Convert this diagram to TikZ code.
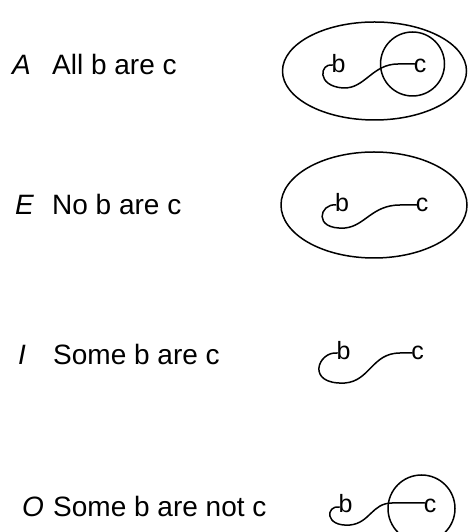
\documentclass[tikz,border=0pt]{standalone}
\usepackage{fontspec}
\setmainfont{Liberation Sans}
\begin{document}
\begin{tikzpicture}[x=1pt,y=1pt,
  lbl/.style={anchor=base west,inner sep=0pt,font=\fontsize{28}{30}\selectfont},
  let/.style={anchor=base,inner sep=0pt,font=\fontsize{25}{27}\selectfont},
  ln/.style={line width=1.5pt,line cap=round,line join=round},
  ring/.style={draw,circle,line width=1.5pt,inner sep=0pt}]
\useasboundingbox (0,0) rectangle (469,532);
% Row A
\node[lbl] (kA) at (12,457) {\itshape A};
\node[lbl] (tA) at (52,457) {All b are c};
\draw[ln] (374.5,461) ellipse [x radius=92,y radius=49];
\node[let] (bA) at (338.5,459) {b};
\node[let] (cA) at (420,459) {c};
\node[ring,minimum size=64pt] (circA) at (412.5,468) {};
\draw[ln] ([xshift=1pt,yshift=8pt]bA.base west) .. controls (320,469) and (316,446) .. (343,444)
  .. controls (365,443) and (372,468) .. (398,468) -- ([xshift=1pt,yshift=9pt]cA.base west);
% Row E
\node[lbl] (kE) at (15,317) {\itshape E};
\node[lbl] (tE) at (52,317) {No b are c};
\draw[ln] (374,327) ellipse [x radius=93,y radius=53];
\node[let] (bE) at (342,320) {b};
\node[let] (cE) at (422,320) {c};
\draw[ln] ([xshift=1pt,yshift=7pt]bE.base west) .. controls (320,329) and (312,302) .. (345,304)
  .. controls (365,306) and (372,327) .. (400,327) -- ([xshift=1pt,yshift=7pt]cE.base west);
% Row I
\node[lbl] (kI) at (18,167) {\itshape I};
\node[lbl] (tI) at (53,167) {Some b are c};
\node[let] (bI) at (343.5,172) {b};
\node[let] (cI) at (417.5,172) {c};
\draw[ln] ([xshift=1pt,yshift=7pt]bI.base west) .. controls (318,181) and (305,147) .. (345,149)
  .. controls (370,151) and (372,179) .. (400,179) -- ([xshift=1pt,yshift=7pt]cI.base west);
% Row O
\node[lbl] (kO) at (22,15) {\itshape O};
\node[lbl] (tO) at (53,15) {Some b are not c};
\node[let] (bO) at (345.5,19) {b};
\node[let] (cO) at (430,19) {c};
\node[ring,minimum size=67pt] (circO) at (421.5,23.5) {};
\draw[ln] ([xshift=1pt,yshift=6pt]bO.base west) .. controls (326,27) and (324,5) .. (350,7)
  .. controls (370,9) and (372,29) .. (392,29) -- ([xshift=1pt,yshift=10pt]cO.base west);
\end{tikzpicture}
\end{document}
